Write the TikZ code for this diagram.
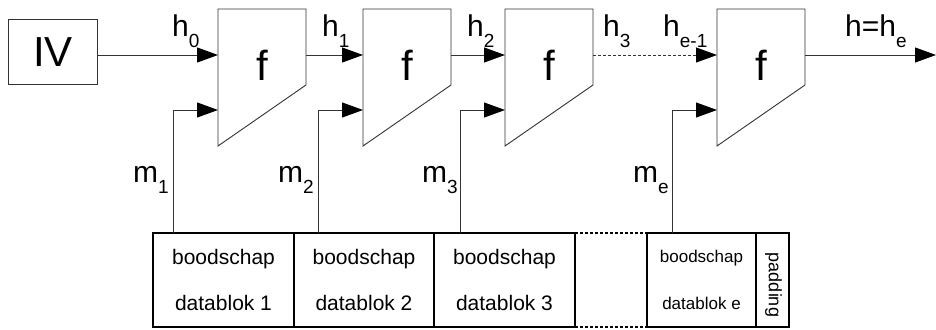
\documentclass[tikz,border=0pt]{standalone}
\usepackage{fontspec}
\setmainfont{Liberation Sans}
\usetikzlibrary{arrows.meta}

% label with a lowered index
\newcommand{\lbl}[2]{#1\raisebox{-11pt}{\fontsize{19}{19}\selectfont #2}}

\begin{document}
\begin{tikzpicture}[x=1pt,y=-1pt,
  line/.style={draw=black!80,line width=0.9pt},
  arr/.style={line,-{Triangle[length=21pt,width=15pt,color=black]}},
  fbox/.style={minimum width=88pt,minimum height=137pt,inner sep=0pt,outer sep=0pt,anchor=north west},
  ftext/.style={font=\fontsize{42}{42}\selectfont,anchor=base,inner sep=0pt},
  blk/.style={draw,line width=1.1pt,minimum height=94pt,inner sep=0pt,outer sep=0pt,
    align=center,anchor=north west,font=\fontsize{21}{46}\selectfont},
  lab/.style={font=\fontsize{30}{30}\selectfont,anchor=base west,inner sep=0pt}]
  \useasboundingbox (0,0) rectangle (936,329);

  % Nodes
  \node[line,minimum width=89pt,minimum height=65pt,inner sep=0pt,anchor=north west,
    font=\fontsize{42}{42}\selectfont] (IV) at (8,19) {IV};

  \foreach \i/\x in {1/218,2/363,3/505,4/717} {
    \node[fbox] (f\i) at (\x,9) {};
    \draw[line] (f\i.north west) -- (f\i.north east) -- ([yshift=61pt]f\i.south east)
      -- (f\i.south west) -- cycle;
    \node[ftext] (ft\i) at ([yshift=-71pt]f\i.north) {f};
    \coordinate (h\i) at ([yshift=-46pt]f\i.north west);
    \coordinate (m\i) at ([yshift=-101pt]f\i.north west);
    \coordinate (o\i) at ([yshift=-46pt]f\i.north east);
    \coordinate (src\i) at ([xshift=-45pt]m\i);
  }
  \coordinate (hout) at (936,55);

  \node[blk,minimum width=141pt] (b1) at (153,233) {boodschap\\datablok 1};
  \node[blk,minimum width=140pt] (b2) at (294,233) {boodschap\\datablok 2};
  \node[blk,minimum width=141pt] (b3) at (434,233) {boodschap\\datablok 3};
  \node[blk,minimum width=109pt,font=\fontsize{17}{47}\selectfont] (be) at (647,233) {boodschap\\datablok e};
  \node[blk,minimum width=33pt] (pad) at (756,233) {};
  \node[rotate=-90,inner sep=0pt,font=\fontsize{18}{18}\selectfont] (padtxt)
    at ([xshift=1pt,yshift=-5pt]pad.center) {padding};

  % Arrows
  \draw[arr] (IV.east |- h1) -- (h1);
  \draw[arr] (o1) -- (h2);
  \draw[arr] (o2) -- (h3);
  \draw[arr,dash pattern=on 3pt off 2pt] (o3) -- (h4);
  \draw[arr] (o4) -- (hout);
  \foreach \i/\b in {1/b1,2/b2,3/b3,4/be}
    \draw[arr] (\b.north -| src\i) |- (m\i);

  % open part of the message
  \draw[line width=1.1pt,dash pattern=on 3pt off 2pt] (b3.north east) -- (be.north west);
  \draw[line width=1.1pt,dash pattern=on 3pt off 2pt] (b3.south east) -- (be.south west);

  % Labels
  \node[lab] (lh0) at (172,37) {\lbl{h}{0}};
  \node[lab] (lh1) at (322,37) {\lbl{h}{1}};
  \node[lab] (lh2) at (467,37) {\lbl{h}{2}};
  \node[lab] (lh3) at (603,37) {\lbl{h}{3}};
  \node[lab] (lh4) at (663,37) {\lbl{h}{e-1}};
  \node[lab] (lhe) at (845,37) {\lbl{h=h}{e}};
  \node[lab] (lm1) at (133,182) {\lbl{m}{1}};
  \node[lab] (lm2) at (278,182) {\lbl{m}{2}};
  \node[lab] (lm3) at (422,182) {\lbl{m}{3}};
  \node[lab] (lme) at (633,182) {\lbl{m}{e}};
\end{tikzpicture}
\end{document}
